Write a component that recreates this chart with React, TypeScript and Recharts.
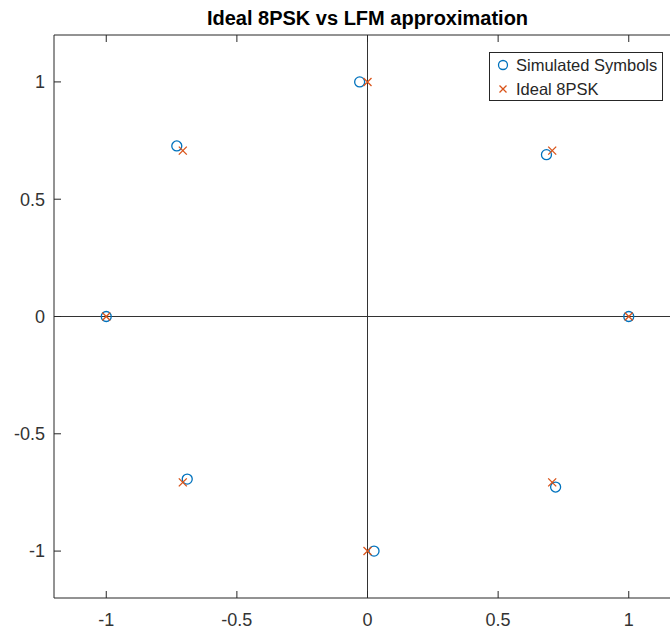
import React from 'react'
import {
  ScatterChart, Scatter, XAxis, YAxis, ReferenceLine, Legend,
} from 'recharts'

// constellation points
const idealI = [1, 0.707, 0, -0.707, -1, -0.707, 0, 0.707]
const idealQ = [0, 0.707, 1, 0.707, 0, -0.707, -1, -0.707]
const simI = [1, 0.685, -0.03, -0.73, -1, -0.69, 0.025, 0.72]
const simQ = [0, 0.69, 1.0, 0.727, 0, -0.693, -1.0, -0.727]

const axisTicks = [-1, -0.5, 0, 0.5, 1]
const tickLabels = ['-1', '-0.5', '0', '0.5', '1']

const BLUE = '#0072BD'
const ORANGE = '#D95319'
const AXIS = '#262626'
const FONT = 'Arial, "Liberation Sans", Helvetica, sans-serif'

const simulated = simI.map((x, i) => ({ x, y: simQ[i] }))
const ideal = idealI.map((x, i) => ({ x, y: idealQ[i] }))

const label = (v: number) => tickLabels[axisTicks.indexOf(v)] ?? String(v)

function CircleMark({ cx, cy }: any) {
  return <circle cx={cx} cy={cy} r={5} fill="none" stroke={BLUE} strokeWidth={1.3} />
}

function CrossMark({ cx, cy }: any) {
  const s = 4
  return (
    <path
      d={`M${cx - s},${cy - s}L${cx + s},${cy + s}M${cx - s},${cy + s}L${cx + s},${cy - s}`}
      stroke={ORANGE} strokeWidth={1.3} fill="none"
    />
  )
}

function BottomTick({ x, y, payload }: any) {
  return (
    <g>
      <line x1={x} y1={y} x2={x} y2={y - 7} stroke={AXIS} />
      <text x={x} y={y + 15} dy="0.71em" textAnchor="middle" fill="#333" fontSize={18} fontFamily={FONT}>
        {label(payload.value)}
      </text>
    </g>
  )
}

function TopTick({ x, y }: any) {
  return <line x1={x} y1={y} x2={x} y2={y + 7} stroke={AXIS} />
}

function LeftTick({ x, y, payload }: any) {
  return (
    <g>
      <line x1={x} y1={y} x2={x + 7} y2={y} stroke={AXIS} />
      <text x={x - 9} y={y} dy="0.355em" textAnchor="end" fill="#333" fontSize={18} fontFamily={FONT}>
        {label(payload.value)}
      </text>
    </g>
  )
}

function LegendBox() {
  const row = { display: 'flex', alignItems: 'center', height: 24 }
  return (
    <div style={{
      border: '1px solid #262626', background: '#fff', boxSizing: 'border-box',
      width: 174, height: 49, padding: '0 0 0 6px', fontFamily: FONT, fontSize: 16.5, color: '#262626',
    }}>
      <div style={row}>
        <svg width={14} height={14} style={{ marginRight: 6 }}>
          <circle cx={7} cy={7} r={4.5} fill="none" stroke={BLUE} strokeWidth={1.3} />
        </svg>
        Simulated Symbols
      </div>
      <div style={row}>
        <svg width={14} height={14} style={{ marginRight: 6 }}>
          <path d="M3.5,3.5L10.5,10.5M3.5,10.5L10.5,3.5" stroke={ORANGE} strokeWidth={1.3} />
        </svg>
        Ideal 8PSK
      </div>
    </div>
  )
}

export default function App() {
  return (
    <div style={{ position: 'absolute', left: 0, top: 0, width: 670, height: 633, overflow: 'hidden', background: '#fff' }}>
      <div style={{
        position: 'absolute', left: 54, width: 627, top: 7, textAlign: 'center',
        fontFamily: FONT, fontWeight: 'bold', fontSize: 20, color: '#000', zIndex: 2,
      }}>
        Ideal 8PSK vs LFM approximation
      </div>
      <ScatterChart width={700} height={633} margin={{ top: 0, right: 19, bottom: 0, left: 0 }}>
        <XAxis
          type="number" dataKey="x" xAxisId="bottom" orientation="bottom"
          domain={[-1.2, 1.2]} ticks={axisTicks} allowDataOverflow
          height={35} tickSize={0} tickMargin={0} tickLine={false}
          axisLine={{ stroke: AXIS }} tick={<BottomTick />}
        />
        <XAxis
          type="number" dataKey="x" xAxisId="top" orientation="top"
          domain={[-1.2, 1.2]} ticks={axisTicks} allowDataOverflow
          height={35} tickSize={0} tickMargin={0} tickLine={false}
          axisLine={{ stroke: AXIS }} tick={<TopTick />}
        />
        <YAxis
          type="number" dataKey="y" domain={[-1.2, 1.2]} ticks={axisTicks} allowDataOverflow
          width={54} tickSize={0} tickMargin={0} tickLine={false}
          axisLine={{ stroke: AXIS }} tick={<LeftTick />}
        />
        <ReferenceLine x={0} xAxisId="bottom" stroke="#333" strokeWidth={1} />
        <ReferenceLine y={0} xAxisId="bottom" stroke="#333" strokeWidth={1} />
        <Legend
          layout="vertical" align="center" verticalAlign="middle"
          content={<LegendBox />}
          wrapperStyle={{ top: 52, left: 489, width: 174, height: 49 }}
        />
        <Scatter
          name="Simulated Symbols" data={simulated} xAxisId="bottom"
          shape={<CircleMark />} isAnimationActive={false}
        />
        <Scatter
          name="Ideal 8PSK" data={ideal} xAxisId="bottom"
          shape={<CrossMark />} isAnimationActive={false}
        />
      </ScatterChart>
    </div>
  )
}
